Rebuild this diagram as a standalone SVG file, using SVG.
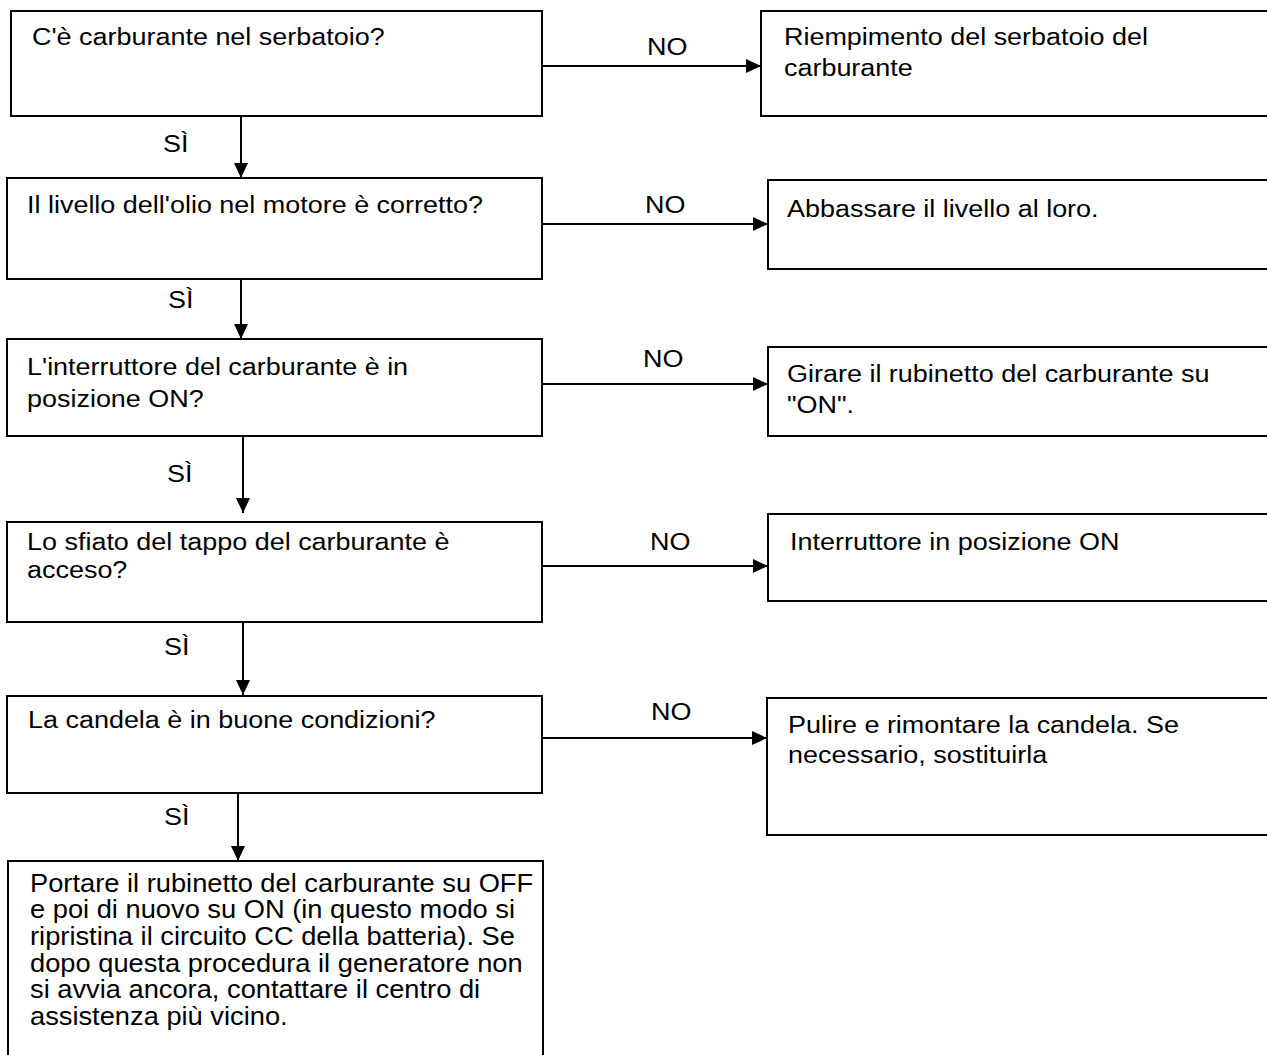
<svg xmlns="http://www.w3.org/2000/svg" width="1267" height="1055" viewBox="0 0 1267 1055">
<style>
.box{fill:#fff;stroke:#000;stroke-width:2}
.t{font-family:"Liberation Sans",Arial,sans-serif;font-size:24.5px;fill:#000}
.tb{font-family:"Liberation Sans",Arial,sans-serif;font-size:25.5px;fill:#000}
.edge{stroke:#000;stroke-width:2;fill:none;marker-end:url(#ah)}
</style>
<defs>
<marker id="ah" markerUnits="userSpaceOnUse" markerWidth="15" markerHeight="14" refX="15" refY="7" orient="auto">
<path d="M0,0 L15,7 L0,14 z" fill="#000"/>
</marker>
</defs>
<rect width="1267" height="1055" fill="#fff"/>
<g id="connectors">
<line class="edge" x1="241" y1="116" x2="241" y2="178"/>
<line class="edge" x1="241" y1="279" x2="241" y2="339"/>
<line class="edge" x1="243" y1="436" x2="243" y2="513"/>
<line class="edge" x1="243" y1="622" x2="243" y2="695"/>
<line class="edge" x1="238" y1="788" x2="238" y2="861"/>
<line class="edge" x1="542" y1="66" x2="761" y2="66"/>
<line class="edge" x1="542" y1="224" x2="768" y2="224"/>
<line class="edge" x1="542" y1="384" x2="768" y2="384"/>
<line class="edge" x1="542" y1="566" x2="768" y2="566"/>
<line class="edge" x1="542" y1="738" x2="767" y2="738"/>
<g id="labels">
<text class="t" transform="scale(1.1 1)" x="148.2" y="152">SÌ</text>
<text class="t" transform="scale(1.1 1)" x="152.7" y="308">SÌ</text>
<text class="t" transform="scale(1.1 1)" x="151.8" y="482">SÌ</text>
<text class="t" transform="scale(1.1 1)" x="149.1" y="655">SÌ</text>
<text class="t" transform="scale(1.1 1)" x="149.1" y="825">SÌ</text>
<text class="t" transform="scale(1.1 1)" x="588.2" y="55">NO</text>
<text class="t" transform="scale(1.1 1)" x="586.4" y="213">NO</text>
<text class="t" transform="scale(1.1 1)" x="584.5" y="367">NO</text>
<text class="t" transform="scale(1.1 1)" x="590.9" y="550">NO</text>
<text class="t" transform="scale(1.1 1)" x="591.8" y="720">NO</text>
</g>
</g>
<g id="q1">
<rect class="box" x="11" y="11" width="531" height="105"/>
<text class="t" transform="scale(1.1 1)" x="29.09" y="45">C'è carburante nel serbatoio?</text>
</g>
<g id="a1">
<rect class="box" x="761" y="11" width="530" height="105"/>
<text class="t" transform="scale(1.1 1)" x="712.7" y="45">Riempimento del serbatoio del</text>
<text class="t" transform="scale(1.1 1)" x="712.7" y="76">carburante</text>
</g>
<g id="q2">
<rect class="box" x="7" y="178" width="535" height="101"/>
<text class="t" transform="scale(1.1 1)" x="24.55" y="213">Il livello dell'olio nel motore è corretto?</text>
</g>
<g id="a2">
<rect class="box" x="768" y="180" width="520" height="89"/>
<text class="t" transform="scale(1.1 1)" x="715.5" y="217">Abbassare il livello al loro.</text>
</g>
<g id="q3">
<rect class="box" x="7" y="339" width="535" height="97"/>
<text class="t" transform="scale(1.1 1)" x="24.55" y="375">L'interruttore del carburante è in</text>
<text class="t" transform="scale(1.1 1)" x="24.55" y="407">posizione ON?</text>
</g>
<g id="a3">
<rect class="box" x="768" y="347" width="520" height="89"/>
<text class="t" transform="scale(1.1 1)" x="715.5" y="382">Girare il rubinetto del carburante su</text>
<text class="t" transform="scale(1.1 1)" x="715.5" y="413">"ON".</text>
</g>
<g id="q4">
<rect class="box" x="7" y="522" width="535" height="100"/>
<text class="t" transform="scale(1.1 1)" x="24.55" y="550">Lo sfiato del tappo del carburante è</text>
<text class="t" transform="scale(1.1 1)" x="24.55" y="578">acceso?</text>
</g>
<g id="a4">
<rect class="box" x="768" y="514" width="520" height="87"/>
<text class="t" transform="scale(1.1 1)" x="718.2" y="550">Interruttore in posizione ON</text>
</g>
<g id="q5">
<rect class="box" x="7" y="696" width="535" height="97"/>
<text class="t" transform="scale(1.1 1)" x="25.45" y="728">La candela è in buone condizioni?</text>
</g>
<g id="a5">
<rect class="box" x="767" y="698" width="520" height="137"/>
<text class="t" transform="scale(1.1 1)" x="716.4" y="733">Pulire e rimontare la candela. Se</text>
<text class="t" transform="scale(1.1 1)" x="716.4" y="763">necessario, sostituirla</text>
</g>
<g id="final">
<rect class="box" x="8" y="861" width="535" height="220"/>
<text class="tb" transform="scale(1.07 1)" x="28.04" y="892">Portare il rubinetto del carburante su OFF</text>
<text class="tb" transform="scale(1.07 1)" x="28.04" y="918.5">e poi di nuovo su ON (in questo modo si</text>
<text class="tb" transform="scale(1.07 1)" x="28.04" y="945">ripristina il circuito CC della batteria). Se</text>
<text class="tb" transform="scale(1.07 1)" x="28.04" y="972">dopo questa procedura il generatore non</text>
<text class="tb" transform="scale(1.07 1)" x="28.04" y="998.5">si avvia ancora, contattare il centro di</text>
<text class="tb" transform="scale(1.07 1)" x="28.04" y="1025">assistenza più vicino.</text>
</g>
</svg>
